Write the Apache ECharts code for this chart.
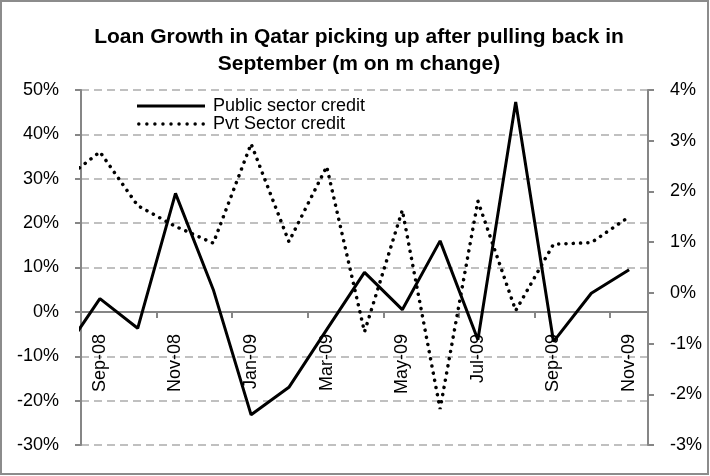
<!DOCTYPE html>
<html>
<head>
<meta charset="utf-8">
<script src="https://cdn.jsdelivr.net/npm/echarts@6/dist/echarts.min.js"></script>
<style>
html,body{margin:0;padding:0;background:#fff;}
#chart{width:710px;height:476px;}
</style>
</head>
<body>
<div id="chart"></div>
<script>
// Months; the first one (Aug-08) lies just before the visible range and is clipped
const months = ['Aug-08','Sep-08','Oct-08','Nov-08','Dec-08','Jan-09','Feb-09','Mar-09','Apr-09','May-09','Jun-09','Jul-09','Aug-09','Sep-09','Oct-09','Nov-09'];
// Public sector credit, m-o-m % change (left axis)
const publicCredit = [-9.6, 3.0, -3.7, 26.7, 5.0, -23.2, -17.0, -4.0, 8.9, 0.5, 16.0, -6.3, 47.3, -6.7, 4.2, 9.5];
// Private sector credit, m-o-m % change (right axis)
const pvtCredit = [2.2, 2.78, 1.72, 1.31, 0.98, 2.94, 1.01, 2.49, -0.77, 1.63, -2.29, 1.81, -0.35, 0.96, 0.99, 1.50];
const seriesNames = ['Public sector credit', 'Pvt Sector credit'];
const titleLines = ['Loan Growth in Qatar picking up after pulling back in', 'September (m on m change)'];
const leftTicks = {min: -30, max: 50, interval: 10};
const rightTicks = {min: -3, max: 4, interval: 1};

const visibleMonths = months.slice(1);
const toPoints = arr => arr.map((v, i) => [i - 1, v]);

// grid geometry
const CH = 476, GRID_TOP = 90, GRID_BOTTOM = 31;
const plotH = CH - GRID_TOP - GRID_BOTTOM;
// move the category axis up to the 0 value of the left axis
const zeroOffset = -plotH * (0 - leftTicks.min) / (leftTicks.max - leftTicks.min);

// legend sample icons
const solidIcon = 'path://M0,0 L68,0 L68,3 L0,3 Z';
let dotPath = '';
for (let i = 0; i < 9; i++) {
  const cx = 1.75 + i * 8.05;
  dotPath += 'M' + (cx - 1.75) + ',1.75 a1.75,1.75 0 1,0 3.5,0 a1.75,1.75 0 1,0 -3.5,0 ';
}
const dottedIcon = 'path://' + dotPath.trim();

const chart = echarts.init(document.getElementById('chart'), null, {renderer: 'canvas'});
const FONT = 'Liberation Sans, Arial, sans-serif';
const axisGray = '#868686';

chart.setOption({
  backgroundColor: '#ffffff',
  animation: false,
  graphic: [
    {type: 'rect', shape: {x: 1, y: 1, width: 707, height: 473},
     style: {fill: 'none', stroke: '#8c8c8c', lineWidth: 2}, z: 100},
    {type: 'text', x: 359, y: 24,
     style: {text: titleLines.join('\n'), font: 'bold 21px ' + FONT, fill: '#000',
             textAlign: 'center', textVerticalAlign: 'top', lineHeight: 27}}
  ],
  legend: {
    left: 137, top: 97, orient: 'vertical', padding: 0,
    itemWidth: 68, itemHeight: 3.5, itemGap: 0,
    textStyle: {fontFamily: FONT, fontSize: 18, color: '#000', lineHeight: 18, padding: [0,0,0,3]},
    data: [
      {name: seriesNames[0], icon: solidIcon},
      {name: seriesNames[1], icon: dottedIcon}
    ]
  },
  grid: {left: 81, right: 62, top: GRID_TOP, bottom: GRID_BOTTOM, containLabel: false, outerBoundsMode: 'none'},
  xAxis: [
    {
      type: 'category', data: visibleMonths, boundaryGap: true, position: 'bottom',
      offset: zeroOffset,
      axisLine: {onZero: false, lineStyle: {color: axisGray, width: 2}},
      axisTick: {show: true, interval: 1, length: 6, lineStyle: {color: axisGray, width: 2}},
      axisLabel: {interval: 1, rotate: 90, margin: 22, color: '#000', fontFamily: FONT, fontSize: 18},
      splitLine: {show: false}
    },
    {
      type: 'value', min: -0.5, max: 14.5, show: false, position: 'top',
      axisLine: {onZero: false},
      splitLine: {show: false}
    }
  ],
  yAxis: [
    {
      type: 'value', min: leftTicks.min, max: leftTicks.max, interval: leftTicks.interval,
      axisLine: {show: true, onZero: false, lineStyle: {color: axisGray, width: 2}},
      axisTick: {show: true, length: 6, lineStyle: {color: axisGray, width: 2}},
      axisLabel: {formatter: v => v + '%', margin: 22, color: '#000', fontFamily: FONT, fontSize: 18},
      splitLine: {show: true, lineStyle: {color: '#c0c0c0', width: 2, type: [8, 5]}}
    },
    {
      type: 'value', position: 'right', min: rightTicks.min, max: rightTicks.max, interval: rightTicks.interval,
      axisLine: {show: true, onZero: false, lineStyle: {color: axisGray, width: 2}},
      axisTick: {show: true, length: 6, lineStyle: {color: axisGray, width: 2}},
      axisLabel: {formatter: v => v + '%', margin: 22, color: '#000', fontFamily: FONT, fontSize: 18},
      splitLine: {show: false}
    }
  ],
  series: [
    {
      name: seriesNames[0], type: 'line', xAxisIndex: 1, yAxisIndex: 0,
      data: toPoints(publicCredit), symbol: 'none', clip: true,
      color: '#000',
      lineStyle: {color: '#000', width: 3}
    },
    {
      name: seriesNames[1], type: 'line', xAxisIndex: 1, yAxisIndex: 1,
      data: toPoints(pvtCredit), symbol: 'none', clip: true,
      color: '#000',
      lineStyle: {color: '#000', width: 3.5, type: [0.1, 7.2], cap: 'round'}
    }
  ]
});
</script>
</body>
</html>
